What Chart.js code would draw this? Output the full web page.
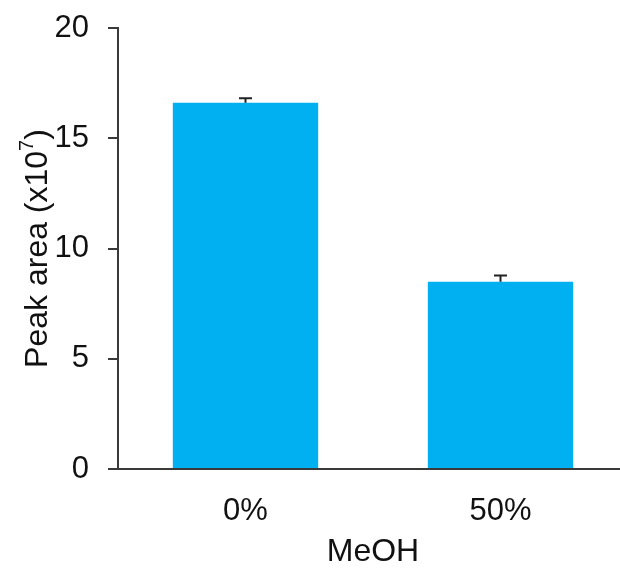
<!DOCTYPE html>
<html>
<head>
<meta charset="utf-8">
<script src="https://cdn.jsdelivr.net/npm/chart.js@4.4.1/dist/chart.umd.min.js"></script>
<style>
  html, body { margin: 0; padding: 0; background: #fff; overflow: hidden; }
  #wrap { width: 628px; height: 568px; }
</style>
</head>
<body>
<div id="wrap"><canvas id="chart" width="628" height="568"></canvas></div>
<script>
(function () {
    'use strict';

    var categories = ['0%', '50%'];
    var peakArea = [16.61, 8.49];
    var peakErr = [0.2, 0.28];
    var yTicks = [0, 5, 10, 15, 20];

    var FONT = "'Liberation Sans', Arial, sans-serif";
    var AXIS = '#3a3a3a';

    // error bars, upper side only
    var errorBars = {
        id: 'errorBars',
        afterDatasetsDraw: function (chart) {
            var ctx = chart.ctx;
            var xs = chart.scales.x, ys = chart.scales.y;
            ctx.save();
            ctx.strokeStyle = '#222';
            ctx.lineWidth = 2;
            for (var i = 0; i < peakArea.length; i++) {
                var x = xs.getPixelForValue(i);
                var y0 = ys.getPixelForValue(peakArea[i]);
                var y1 = ys.getPixelForValue(peakArea[i] + peakErr[i]);
                ctx.beginPath();
                ctx.moveTo(x, y0);
                ctx.lineTo(x, y1);
                ctx.moveTo(x - 6.5, y1);
                ctx.lineTo(x + 6.5, y1);
                ctx.stroke();
            }
            ctx.restore();
        }
    };

    // y title with superscript exponent
    var yTitle = {
        id: 'yTitle',
        afterDraw: function (chart) {
            var ctx = chart.ctx;
            var a = chart.chartArea;
            var main = 'Peak area (x10', sup = '7', tail = ')';
            ctx.save();
            ctx.translate(38, (a.top + a.bottom) / 2);
            ctx.rotate(-Math.PI / 2);
            ctx.fillStyle = '#111';
            ctx.textBaseline = 'middle';
            ctx.font = '32px ' + FONT;
            var w1 = ctx.measureText(main).width;
            var w3 = ctx.measureText(tail).width;
            ctx.font = '20px ' + FONT;
            var w2 = ctx.measureText(sup).width;
            var x = -(w1 + w2 + w3) / 2;
            ctx.font = '32px ' + FONT;
            ctx.textAlign = 'left';
            ctx.fillText(main, x, 0);
            ctx.font = '20px ' + FONT;
            ctx.fillText(sup, x + w1, -11);
            ctx.font = '32px ' + FONT;
            ctx.fillText(tail, x + w1 + w2, 0);
            ctx.restore();
        }
    };

    var ctx = document.getElementById('chart').getContext('2d');
    new Chart(ctx, {
        type: 'bar',
        data: {
            labels: categories,
            datasets: [{
                data: peakArea,
                backgroundColor: '#00B0F0',
                borderWidth: 0,
                barPercentage: 0.57,
                categoryPercentage: 1.0
            }]
        },
        options: {
            responsive: false,
            animation: false,
            layout: { padding: { left: 0, top: 28, right: 0, bottom: 0 } },
            plugins: { legend: { display: false }, tooltip: { enabled: false } },
            scales: {
                x: {
                    afterFit: function (scale) { scale.height = 99; },
                    grid: { display: false },
                    border: { display: true, color: AXIS, width: 2 },
                    ticks: { color: '#111', font: { family: FONT, size: 31 }, padding: 16 },
                    title: { display: true, text: 'MeOH', color: '#111', font: { family: FONT, size: 32, lineHeight: 1.0 }, padding: { top: 0, bottom: 0 } }
                },
                y: {
                    min: 0,
                    max: 20,
                    afterBuildTicks: function (scale) {
                        scale.ticks = yTicks.map(function (v) { return { value: v }; });
                    },
                    afterFit: function (scale) {
                        scale.width = 118;
                        scale.paddingTop = 0;
                        scale.paddingBottom = 0;
                    },
                    grid: { drawOnChartArea: false, drawTicks: true, tickLength: 10, color: AXIS, lineWidth: 2 },
                    border: { display: true, color: AXIS, width: 2 },
                    ticks: { color: '#111', font: { family: FONT, size: 31 }, padding: 19 }
                }
            }
        },
        plugins: [errorBars, yTitle]
    });
})();
</script>
</body>
</html>
